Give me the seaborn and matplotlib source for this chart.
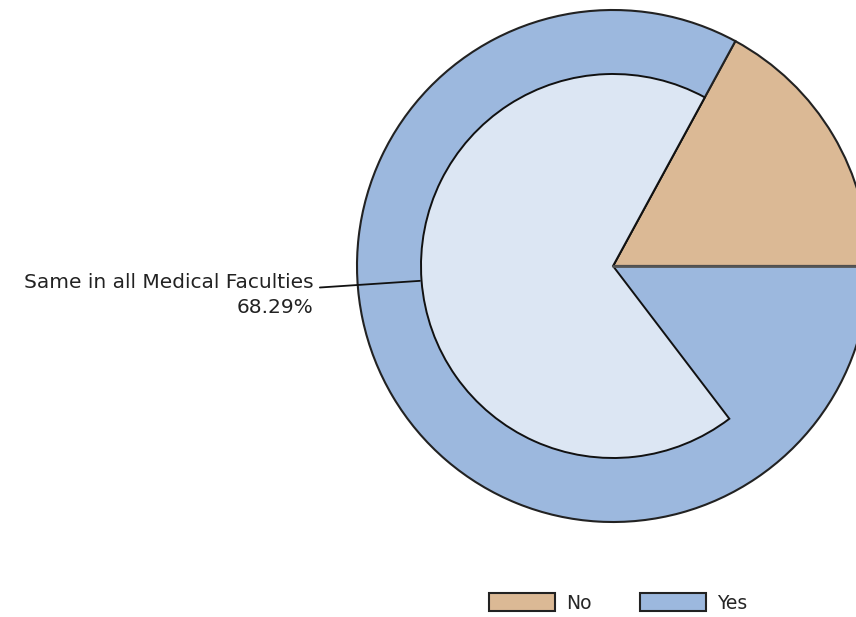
import matplotlib
matplotlib.use("Agg")
import matplotlib.pyplot as plt
from matplotlib.patches import Wedge, Patch
import seaborn as sns

# Data
outer_labels = ["No", "Yes"]
outer_values = [17.07, 82.93]
inner_label = "Same in all Medical Faculties"
inner_value = 68.29

colors = {"No": "#dbb995", "Yes": "#9cb8de"}
inner_color = "#dce6f3"

sns.set_theme(style="white")
plt.rcParams['font.family'] = ['DejaVu Sans']

fig = plt.figure(figsize=(8.56, 6.17), dpi=100)
ax = fig.add_axes([0, 0, 1, 1])

# Outer pie (counterclockwise from 0 degrees)
wedges, _ = ax.pie(outer_values, colors=[colors[l] for l in outer_labels],
                   startangle=0, counterclock=True, radius=1.0, center=(0, 0),
                   wedgeprops=dict(edgecolor="#222222", linewidth=1.5),
                   frame=True)
ax.set_xlim(-613 / 256, (856 - 613) / 256)
ax.set_ylim(-(617 - 266) / 256, 266 / 256)
ax.set_aspect('equal')
ax.axis('off')

# Inner wedge starting at the No boundary
start = outer_values[0] / 100 * 360
end = start + inner_value / 100 * 360
inner = Wedge((0, 0), 0.75, start, end, facecolor=inner_color,
              edgecolor="#111111", linewidth=1.4, zorder=3)
ax.add_patch(inner)

# gray boundary line at 0 degrees
ax.plot([0, 1.0], [0, 0], color="#555555", linewidth=2, zorder=4)

# Label with leader line
ax.plot([-1.145, -0.754], [-0.084, -0.058], color="#111111", linewidth=1.3, zorder=5)
ax.text(-1.17, -0.086, inner_label, ha='right', va='baseline', fontsize=14.5, color="#222222")
ax.text(-1.17, -0.183, f"{inner_value:.2f}%", ha='right', va='baseline', fontsize=14.5, color="#222222")

handles = [Patch(facecolor=colors[l], edgecolor="#222222", linewidth=1.5) for l in outer_labels]
fig.legend(handles, outer_labels, ncol=2, loc='center',
           bbox_to_anchor=(618 / 856, 1 - 603 / 617), frameon=False,
           fontsize=13.5, handlelength=3.5, handleheight=1.05,
           handletextpad=0.6, columnspacing=2.6)

fig.savefig("out.png", dpi=100)
